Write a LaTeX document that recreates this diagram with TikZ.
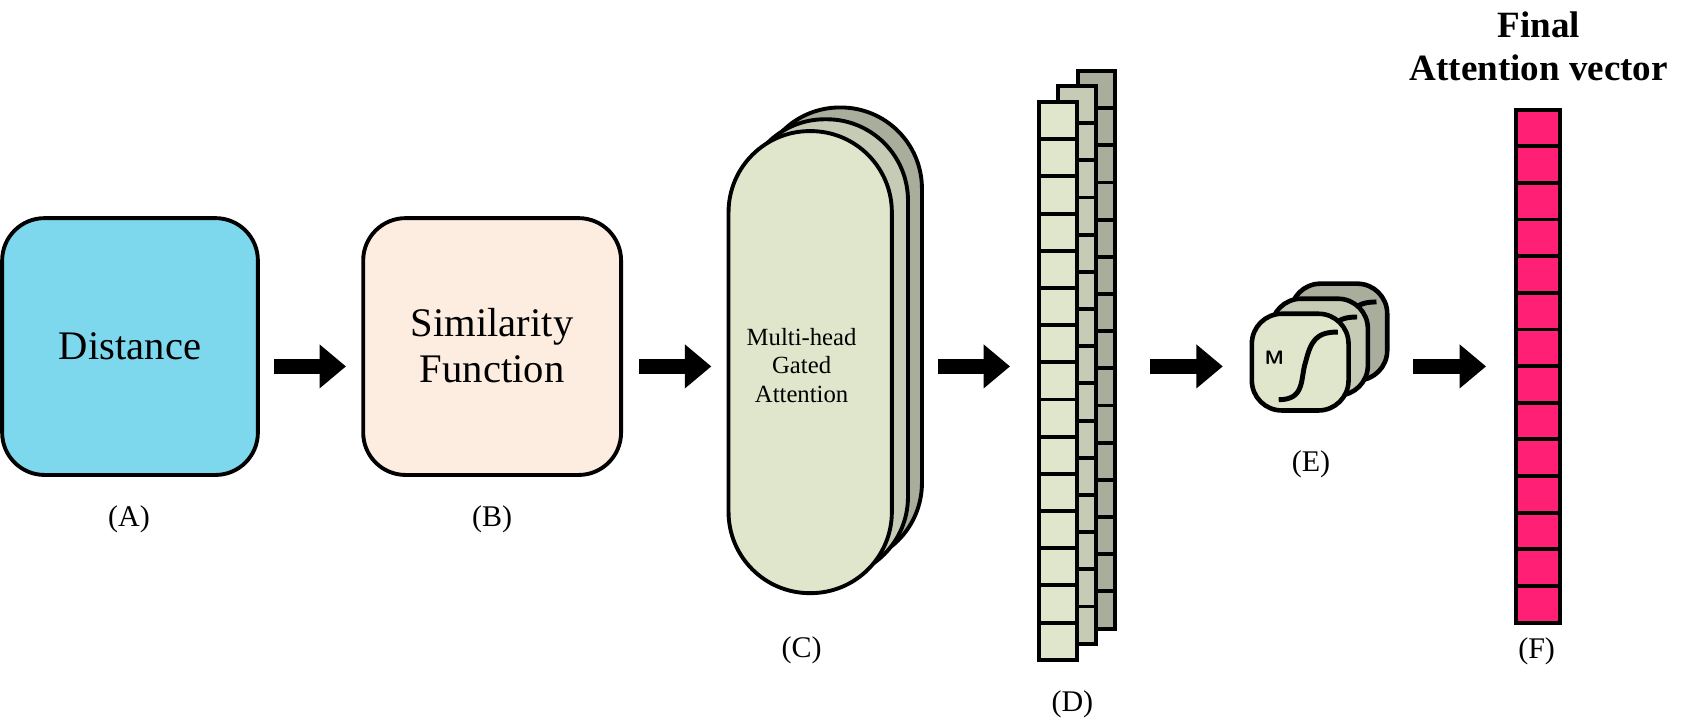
\documentclass[tikz,border=0pt]{standalone}
\usepackage{fontspec}
\setmainfont{Liberation Serif}
\usetikzlibrary{arrows.meta}
\definecolor{cA}{HTML}{7DD8EE}
\definecolor{cB}{HTML}{FDEDE0}
\definecolor{g1}{HTML}{DFE6CB}
\definecolor{g2}{HTML}{C6CBB5}
\definecolor{g3}{HTML}{A9AD9C}
\definecolor{cF}{HTML}{FF1F74}
\tikzset{
 blk/.style={draw=black,line width=1.1pt},
 bigarrow/.style={line width=4.3pt,-{Triangle[length=7.5pt,width=12pt]}},
 lab/.style={font=\fontsize{8.5}{10}\selectfont},
}
\begin{document}
\begin{tikzpicture}[x=0.0107cm,y=-0.0107cm]
\useasboundingbox (0,0) rectangle (1570,672);
% A
\draw[blk,fill=cA,rounded corners=12pt] (2,203) rectangle (240,442);
\node[font=\fontsize{11.5}{13}\selectfont] (a) at (121,322) {Distance};
\node[lab] (la) at (120,483) {(A)};
% B
\draw[blk,fill=cB,rounded corners=12pt] (338,203) rectangle (578,442);
\node[font=\fontsize{11.5}{13}\selectfont,align=center] (b) at (458,322) {Similarity\\Function};
\node[lab] (lb) at (458,483) {(B)};
% C
\draw[blk,fill=g3,rounded corners=23pt] (706,100) rectangle (858,525);
\draw[blk,fill=g2,rounded corners=23pt] (692,111) rectangle (845,538);
\draw[blk,fill=g1,rounded corners=23pt] (678,122) rectangle (830,552);
\node[font=\fontsize{7}{8}\selectfont,align=center] (c) at (746,340) {Multi-head\\Gated\\Attention};
\node[lab] (lc) at (746,605) {(C)};
% D
\foreach \x/\y/\c in {1003/66/g3,985/80/g2,967/95/g1}{
  \draw[blk,fill=\c] (\x,\y) rectangle ++(35,519);
  \foreach \i in {1,...,14} \draw[blk] (\x,\y+\i*34.6) -- ++(35,0);
}
\node[lab] (ld) at (998,655) {(D)};
% E
\foreach \x/\y/\c in {1201/264/g3,1183/278/g2,1165/292/g1}{
  \draw[blk,line width=1.3pt,fill=\c,rounded corners=8.5pt] (\x,\y) rectangle ++(90,90);
  \draw[line width=1.4pt] (\x+25,\y+80) .. controls (\x+50,\y+80) and (\x+45,\y+60) .. (\x+50,\y+45) .. controls (\x+55,\y+25) and (\x+60,\y+17) .. (\x+80,\y+17);
}
\node[font=\sffamily\bfseries\fontsize{5.5}{6}\selectfont] (m) at (1186,333) {M};
\node[lab] (le) at (1220,432) {(E)};
% F
\node[font=\bfseries\fontsize{10.5}{12}\selectfont,align=center] (ft) at (1432,43) {Final\\Attention vector};
\draw[blk,fill=cF] (1411,102) rectangle (1452,580);
\foreach \i in {1,...,13} \draw[blk] (1411,102+\i*34.1) -- (1452,102+\i*34.1);
\node[lab] (lf) at (1430,606) {(F)};
% arrows
\coordinate (p1) at (255,341); \coordinate (q1) at (322,341);
\coordinate (p2) at (595,341); \coordinate (q2) at (662,341);
\coordinate (p3) at (873,341); \coordinate (q3) at (940,341);
\coordinate (p4) at (1070,341); \coordinate (q4) at (1138,341);
\coordinate (p5) at (1315,341); \coordinate (q5) at (1383,341);
\foreach \i in {1,...,5} \draw[bigarrow] (p\i) -- (q\i);
\end{tikzpicture}
\end{document}
